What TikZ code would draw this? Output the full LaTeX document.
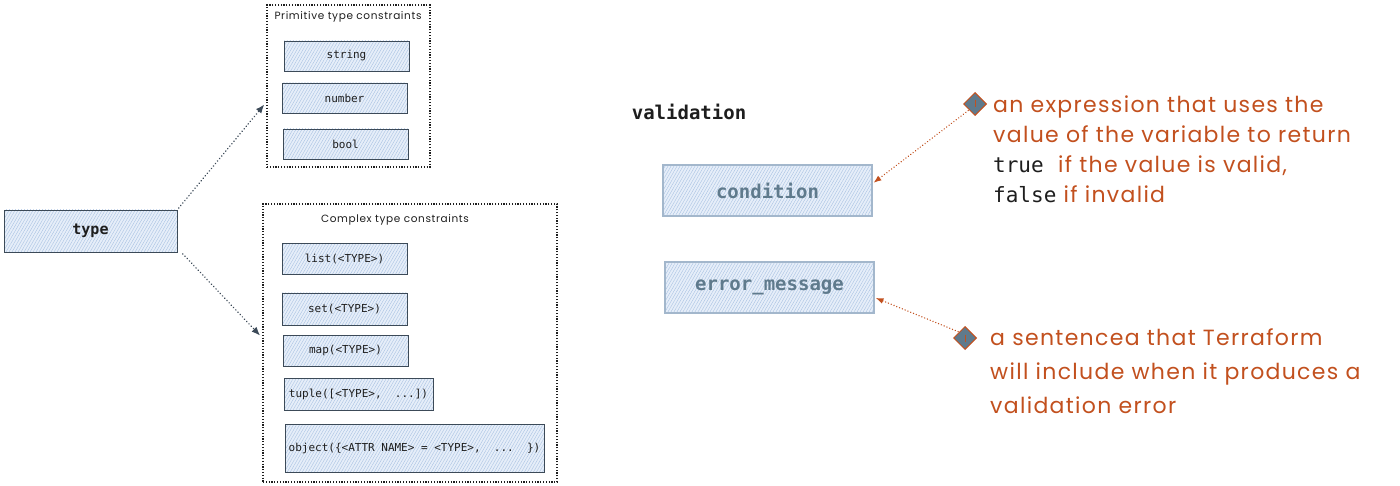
\documentclass[tikz,border=0pt]{standalone}
\usepackage{fontspec}
\setmonofont{DejaVu Sans Mono}
\newfontfamily\handfont{Poppins}[LetterSpace=6]
\newfontfamily\codefont{DejaVu Sans Mono}
\usetikzlibrary{patterns.meta,arrows.meta,shapes.geometric}
\definecolor{hatch}{HTML}{A9C2E2}
\definecolor{boxfill}{HTML}{E6EEF9}
\definecolor{ink}{HTML}{1E1E1E}
\definecolor{edge}{HTML}{3C4A58}
\definecolor{softedge}{HTML}{A3B7CC}
\definecolor{slate}{HTML}{5F7A8C}
\definecolor{rust}{HTML}{C2501E}
\tikzset{
  hatched/.style={preaction={fill=boxfill},
    pattern={Lines[angle=60,distance=2.6pt,line width=0.4pt]}, pattern color=hatch},
  codebox/.style={hatched, draw=edge, line width=0.9pt, inner sep=0pt,
    text=ink, font=\codefont\fontsize{11}{13}\selectfont},
  softbox/.style={hatched, draw=softedge, line width=1.2pt, inner sep=0pt,
    text=slate, font=\codefont\bfseries\fontsize{19}{22}\selectfont,
    minimum width=209pt, minimum height=51pt},
  frame/.style={draw=ink, line width=1.3pt, dash pattern=on 1.2pt off 1.6pt, inner sep=0pt},
  frametitle/.style={text=ink, font=\handfont\fontsize{10.5}{12}\selectfont, inner sep=0pt},
  darkarrow/.style={draw=edge, line width=1.7pt, dash pattern=on 0.01pt off 3.2pt, line cap=round,
    -{Latex[length=9pt,width=7pt]}},
  rustarrow/.style={draw=rust, line width=1.5pt, dash pattern=on 0.01pt off 3pt, line cap=round,
    -{Latex[length=8pt,width=6pt]}},
  marker/.style={diamond, draw=rust, fill=slate, line width=1pt, inner sep=0pt, minimum size=23pt},
  handtext/.style={text=rust, align=left, inner sep=0pt, anchor=north west,
    font=\handfont\fontsize{22}{29.7}\selectfont},
}
\begin{document}
\begin{tikzpicture}[x=1pt,y=-1pt]
\useasboundingbox (0,0) rectangle (1400,486);

% left side
\node[codebox, minimum width=173pt, minimum height=42pt,
      font=\codefont\bfseries\fontsize{15}{18}\selectfont] (type) at (90.5,231) {type};

\node[frame, minimum width=163pt, minimum height=162pt] (prim) at (348.5,86) {};
\node[frametitle] (primt) at (348,17) {Primitive type constraints};
\node[codebox, minimum width=125pt, minimum height=30pt] (string) at (346.5,56) {string};
\node[codebox, minimum width=125pt, minimum height=30pt] (number) at (344.5,98) {number};
\node[codebox, minimum width=125pt, minimum height=30pt] (bool) at (345.5,144) {bool};

\node[frame, minimum width=294pt, minimum height=278pt] (cplx) at (410,343) {};
\node[frametitle] (cplxt) at (395,220) {Complex type constraints};
\node[codebox, minimum width=125pt, minimum height=31pt] (list) at (344.5,259) {list(<TYPE>)};
\node[codebox, minimum width=125pt, minimum height=32pt] (set) at (344.5,309) {set(<TYPE>)};
\node[codebox, minimum width=125pt, minimum height=31pt] (map) at (345.5,350.5) {map(<TYPE>)};
\node[codebox, minimum width=149pt, minimum height=32pt] (tuple) at (358.5,394) {tuple([<TYPE>,\ \ ...])};
\node[codebox, minimum width=259pt, minimum height=48pt] (object) at (414.5,448) {object(\{<ATTR NAME> = <TYPE>,\ \ ...\ \ \})};

\draw[darkarrow, shorten <=2pt, shorten >=3pt] (type.north east) -- ([yshift=-16pt]prim.west);
\draw[darkarrow, shorten <=2pt, shorten >=3pt] ([xshift=4pt]type.south east) -- ([yshift=5pt]cplx.west);

% right side
\node[text=ink, font=\codefont\bfseries\fontsize{19}{22}\selectfont, inner sep=0pt] (valid) at (689,112) {validation};
\node[softbox] (cond) at (767.5,190.5) {condition};
\node[softbox] (err) at (769.5,287.5) {error\_message};

\node[marker] (d1) at (975,104) {};
\draw[rust, line width=0.8pt] ([yshift=3.5pt]d1.center) -- ([yshift=-3.5pt]d1.center);
\node[marker] (d2) at (965,338) {};
\draw[rust, line width=0.8pt] ([yshift=3.5pt]d2.center) -- ([yshift=-3.5pt]d2.center);

\draw[rustarrow, shorten <=1pt, shorten >=1pt] (d1.south west) -- ([yshift=7pt]cond.east);
\draw[rustarrow, shorten <=1pt, shorten >=1pt] (d2.north west) -- ([yshift=-10pt]err.east);

\node[handtext] (t1) at (993,96) {an expression that uses the\\
value of the variable to return\\
{\color{ink}\codefont\fontsize{21}{29.7}\selectfont true}\ \ if the value is valid,\\
{\color{ink}\codefont\fontsize{21}{29.7}\selectfont false} if invalid};

\node[handtext, font=\handfont\fontsize{22}{34}\selectfont] (t2) at (990,328) {a sentencea that Terraform\\
will include when it produces a\\
validation error};
\end{tikzpicture}
\end{document}
